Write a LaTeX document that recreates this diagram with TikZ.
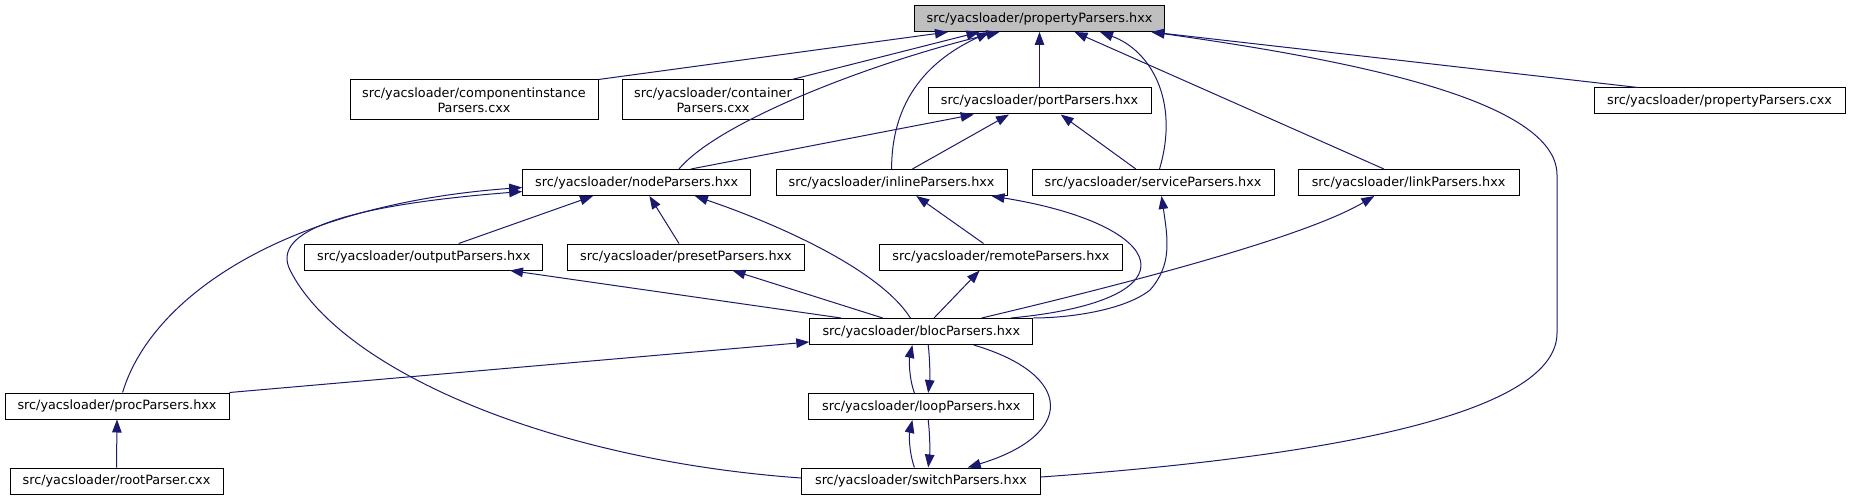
\documentclass[tikz,border=0pt]{standalone}
\usepackage{fontspec}
\setmainfont{DejaVu Sans}
\usetikzlibrary{arrows.meta}
\definecolor{edgecol}{RGB}{25,25,112}
\definecolor{rootfill}{RGB}{191,191,191}
\begin{document}
\begin{tikzpicture}[x=1pt,y=-1pt,
  box/.style={draw=black,line width=1pt,inner sep=0pt,minimum height=26pt,
    font=\fontsize{12.8}{14.5}\selectfont,align=center},
  edge/.style={draw=edgecol,line width=1pt},
  arr/.style={edge,{Triangle[length=13pt,width=9.5pt]}-}]
\useasboundingbox[fill=white] (0,0) rectangle (1851,500);
% nodes
\node[box,fill=rootfill,minimum width=250pt] (prop) at (1039.5,18.5) {src/yacsloader/propertyParsers.hxx};
\node[box,minimum width=248pt,minimum height=40pt] (comp) at (474,100) {src/yacsloader/componentinstance\\Parsers.cxx};
\node[box,minimum width=181pt,minimum height=40pt] (cont) at (713,100) {src/yacsloader/container\\Parsers.cxx};
\node[box,minimum width=223pt] (port) at (1039.5,101) {src/yacsloader/portParsers.hxx};
\node[box,minimum width=251pt] (propcxx) at (1719.5,101) {src/yacsloader/propertyParsers.cxx};
\node[box,minimum width=228pt] (nodep) at (636.7,182.5) {src/yacsloader/nodeParsers.hxx};
\node[box,minimum width=231pt] (inl) at (891.6,182.5) {src/yacsloader/inlineParsers.hxx};
\node[box,minimum width=242pt] (serv) at (1153,182.5) {src/yacsloader/serviceParsers.hxx};
\node[box,minimum width=221pt] (link) at (1408.6,182.5) {src/yacsloader/linkParsers.hxx};
\node[box,minimum width=238pt] (outp) at (423.7,257) {src/yacsloader/outputParsers.hxx};
\node[box,minimum width=237pt] (pres) at (686,257) {src/yacsloader/presetParsers.hxx};
\node[box,minimum width=243pt] (remo) at (1001,257) {src/yacsloader/remoteParsers.hxx};
\node[box,minimum width=223pt] (bloc) at (921.3,331.5) {src/yacsloader/blocParsers.hxx};
\node[box,minimum width=224pt] (proc) at (117,406) {src/yacsloader/procParsers.hxx};
\node[box,minimum width=225pt] (loop) at (921.3,406.5) {src/yacsloader/loopParsers.hxx};
\node[box,minimum width=213pt] (rootp) at (116.5,481) {src/yacsloader/rootParser.cxx};
\node[box,minimum width=239pt] (swit) at (921,481) {src/yacsloader/switchParsers.hxx};
% edges from propertyParsers.hxx
\draw[arr] ([xshift=-91.5pt]prop.south) -- (comp.north east);
\draw[arr] ([xshift=-60pt]prop.south) -- ([xshift=-12pt]cont.north east);
\draw[arr] ([xshift=-50pt]prop.south) .. controls (940,55) and (891.6,90) .. (inl.north);
\draw[arr] ([xshift=-40pt]prop.south) .. controls (880,60) and (720,120) .. ([xshift=42.3pt]nodep.north);
\draw[arr] (prop.south) -- (port.north);
\draw[arr] ([xshift=35pt]prop.south) -- ([xshift=-24.7pt]link.north);
\draw[arr] ([xshift=60.5pt]prop.south) .. controls (1150,50) and (1180,100) .. ([xshift=6.5pt]serv.north);
\draw[arr] ([xshift=112pt]prop.south) -- ([xshift=-81.5pt]propcxx.north);
\draw[arr] ([xshift=112pt]prop.south) .. controls (1350,60) and (1557,100) .. (1557,175) -- (1557,333) .. controls (1557,410) and (1350,455) .. ([yshift=4pt]swit.east);
% edges from portParsers.hxx
\draw[arr] ([xshift=-65.8pt]port.south) -- ([xshift=54.3pt]nodep.north);
\draw[arr] ([xshift=-30.5pt]port.south) -- ([xshift=20.8pt]inl.north);
\draw[arr] ([xshift=21.2pt]port.south) -- ([xshift=-17.2pt]serv.north);
% edges from nodeParsers.hxx
\draw[arr] ([yshift=-5pt]nodep.west) .. controls (280,205) and (150,300) .. ([xshift=5.6pt]proc.north);
\draw[arr] ([yshift=-9pt]nodep.west) .. controls (350,205) and (270,230) .. (290,270) .. controls (340,370) and (550,460) .. ([yshift=3pt]swit.west);
\draw[arr] ([xshift=-43.7pt]nodep.south) -- ([xshift=35pt]outp.north);
\draw[arr] ([xshift=12.7pt]nodep.south) -- ([xshift=-7pt]pres.north);
\draw[arr] ([xshift=58.2pt]nodep.south) .. controls (780,225) and (880,270) .. ([xshift=-10.9pt]bloc.north);
% edges into blocParsers.hxx
\draw[arr] ([xshift=86.3pt]outp.south) -- ([xshift=-80.3pt]bloc.north);
\draw[arr] ([xshift=46.5pt]pres.south) -- ([xshift=-38.6pt]bloc.north);
\draw[arr] ([xshift=-21.4pt]remo.south) -- ([xshift=12.7pt]bloc.north);
\draw[arr] ([xshift=-34.3pt]link.south) .. controls (1300,240) and (1100,290) .. ([xshift=60.3pt]bloc.north);
\draw[arr] ([xshift=24.7pt]inl.south) -- ([xshift=-17.5pt]remo.north);
\draw[arr] ([xshift=99.9pt]inl.south) .. controls (1170,225) and (1200,300) .. ([xshift=89.7pt]bloc.north);
\draw[arr] ([xshift=8.5pt]serv.south) .. controls (1168,240) and (1172,265) .. (1150,290) .. controls (1125,310) and (1070,318) .. (bloc.north east);
% bloc / loop / switch / proc
\draw[arr] ([yshift=-10.5pt]bloc.west) -- (proc.north east);
\draw[arr] ([xshift=-8.9pt]bloc.south) .. controls (909,360) and (909,378) .. ([xshift=-6.9pt]loop.north);
\draw[arr] ([xshift=6.9pt]loop.north) .. controls (930,378) and (930,360) .. ([xshift=6.9pt]bloc.south);
\draw[arr] ([xshift=46.7pt]swit.north) .. controls (1075,435) and (1075,375) .. ([xshift=52.4pt]bloc.south);
\draw[arr] ([xshift=-8.9pt]loop.south) .. controls (909,435) and (909,452) .. ([xshift=-6.6pt]swit.north);
\draw[arr] ([xshift=7.2pt]swit.north) .. controls (930,452) and (930,435) .. ([xshift=6.9pt]loop.south);
\draw[arr] (proc.south) -- (rootp.north);
\end{tikzpicture}
\end{document}
